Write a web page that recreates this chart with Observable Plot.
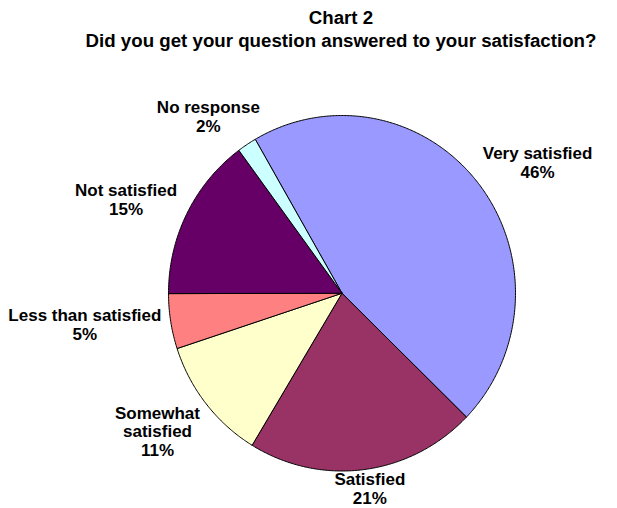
<!DOCTYPE html>
<html>
<head>
<meta charset="utf-8">
<script src="https://cdn.jsdelivr.net/npm/d3@7"></script>
<script src="https://cdn.jsdelivr.net/npm/@observablehq/plot@0.6"></script>
<style>
  html, body { margin: 0; padding: 0; background: #fff; }
  #wrap { position: relative; width: 617px; height: 508px; overflow: hidden; }
  #title { position: absolute; left: 41px; top: 6px; width: 600px; text-align: center;
           font-family: "Liberation Sans", Arial, sans-serif; font-weight: bold;
           font-size: 18.7px; line-height: 23px; color: #000; z-index: 2; }
  #chart { position: absolute; left: 0; top: 0; }
</style>
</head>
<body>
<div id="wrap">
  <div id="title">Chart 2<br>Did you get your question answered to your satisfaction?</div>
  <div id="chart"></div>
</div>
<script>
// ---- data ----
const categories = ["Very satisfied", "Satisfied", "Somewhat\nsatisfied", "Less than satisfied", "Not satisfied", "No response"];
const values = [45.6, 21.4, 11.3, 5.0, 14.9, 1.8];
const colors = ["#9999FF", "#993366", "#FFFFCC", "#FF8080", "#660066", "#CCFFFF"];

// ---- layout ----
const W = 617, H = 508;
const mL = 168, mR = 102, mT = 115, mB = 37.5;
const pxX = (W - mL - mR) / 2, pxY = (H - mT - mB) / 2;
const startAngle = -30 * Math.PI / 180;

const pie = d3.pie().sort(null).value(d => d.value)
  .startAngle(startAngle).endAngle(startAngle + 2 * Math.PI);
const rows = categories.map((c, i) => ({name: c, value: values[i], color: colors[i]}));
const arcs = pie(rows);

// polygon vertices for each slice (unit circle, y up)
const poly = [];
for (const a of arcs) {
  const n = Math.max(2, Math.ceil((a.endAngle - a.startAngle) / (Math.PI / 360)));
  poly.push({name: a.data.name, x: 0, y: 0});
  for (let k = 0; k <= n; k++) {
    const t = a.startAngle + (a.endAngle - a.startAngle) * k / n;
    poly.push({name: a.data.name, x: Math.sin(t), y: Math.cos(t)});
  }
  poly.push({name: a.data.name, x: 0, y: 0});
}

// label positions: text box just outside the pie along the mid-angle
const fontSize = 17, lineH = 1.1;
const ctx = document.createElement("canvas").getContext("2d");
ctx.font = `bold ${fontSize}px "Liberation Sans"`;
const labels = arcs.map(a => {
  const text = `${a.data.name}\n${Math.round(a.data.value)}%`;
  const lines = text.split("\n");
  const w = d3.max(lines, l => ctx.measureText(l).width);
  const h = lines.length * fontSize * lineH;
  const m = (a.startAngle + a.endAngle) / 2;
  const s = Math.sin(m), c = Math.cos(m);
  const diag = Math.abs(Math.sin(2 * m));
  const padX = 6 + 14 * diag, padY = Math.max(0, 22 * diag - 5);
  return {
    text,
    x: s + s * (padX + w / 2) / pxX,
    y: c + c * (padY + h / 2) / pxY
  };
});

const chart = Plot.plot({
  width: W, height: H,
  marginLeft: mL, marginRight: mR, marginTop: mT, marginBottom: mB,
  x: {domain: [-1, 1], axis: null},
  y: {domain: [-1, 1], axis: null},
  color: {domain: categories, range: colors},
  style: {fontFamily: "Liberation Sans, Arial, sans-serif", background: "#fff", overflow: "visible"},
  marks: [
    Plot.line(poly, {x: "x", y: "y", z: "name", fill: "name", stroke: "#000", strokeWidth: 1, strokeLinejoin: "round"}),
    Plot.text(labels, {x: "x", y: "y", text: "text", textAnchor: "middle", lineAnchor: "middle",
      lineHeight: lineH, fontSize: fontSize, fontWeight: "bold", fill: "#000"})
  ]
});
document.getElementById("chart").appendChild(chart);
</script>
</body>
</html>
